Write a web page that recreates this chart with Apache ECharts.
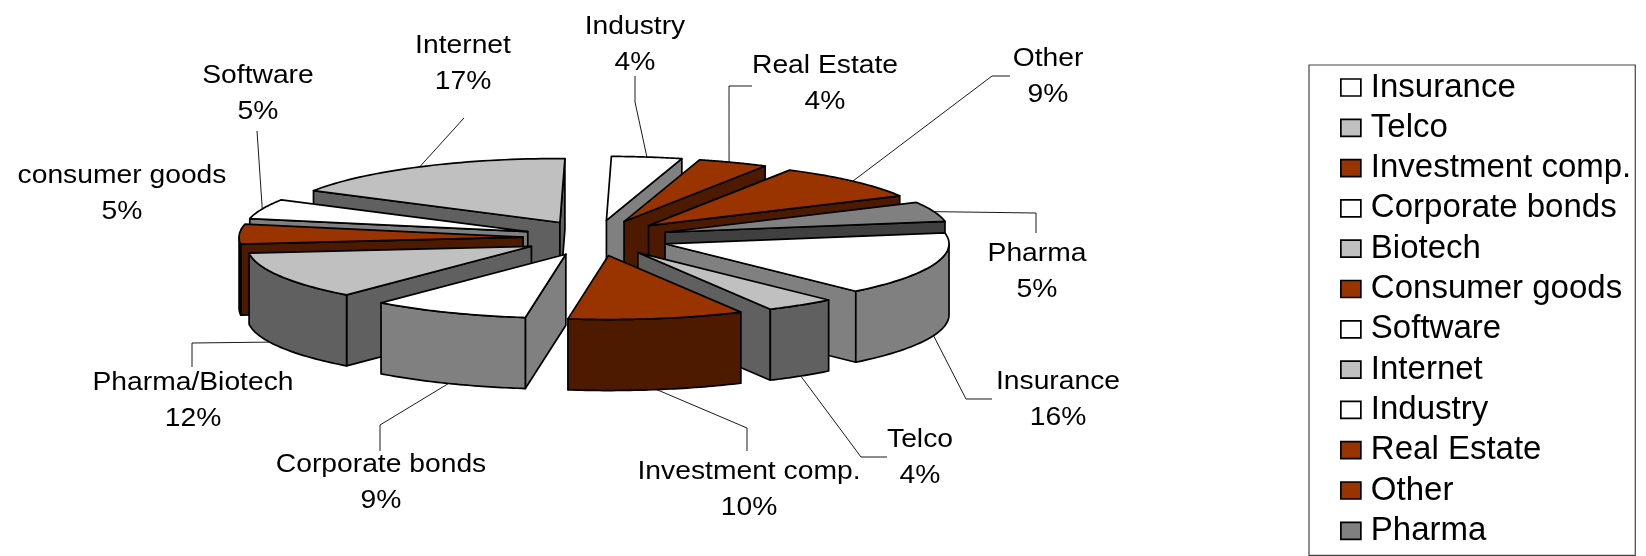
<!DOCTYPE html>
<html>
<head>
<meta charset="utf-8">
<style>html,body{margin:0;padding:0;background:#fff}#c{width:1646px;height:556px}</style>
<script src="https://cdn.jsdelivr.net/npm/echarts@6/dist/echarts.min.js"></script>
</head>
<body>
<div id="c"></div>
<script>
// ---- data ----
const legendNames = ['Insurance','Telco','Investment comp.','Corporate bonds','Biotech','Consumer goods','Software','Internet','Industry','Real Estate','Other','Pharma'];
const labelNames  = ['Insurance','Telco','Investment comp.','Corporate bonds','Pharma/Biotech','consumer goods','Software','Internet','Industry','Real Estate','Other','Pharma'];
const values      = [16,4,10,9,12,5,5,17,4,4,9,5];
// slices run clockwise, beginning with Industry at twelve o'clock
const drawOrder   = [8,9,10,11,0,1,2,3,4,5,6,7];

// ---- styles ----
const topColors  = ['#ffffff','#c0c0c0','#993300','#ffffff','#c0c0c0','#993300','#ffffff','#c0c0c0','#ffffff','#993300','#993300','#808080'];
const wallColors = ['#808080','#606060','#4d1a00','#808080','#606060','#4d1a00','#808080','#606060','#808080','#4d1a00','#4d1a00','#404040'];

// ---- layout ----
const pie = {cx:596, cy:238, rx:284, ry:64, depth:71, ex:73, ey:17.8, start:1};
const labelPos = [[1058,400],[920,458],[749,490],[381,483],[193,401],[122,194],[258,94],[463,64],[635,45],[825,84],[1048,77],[1037,272]];
// elbow points of the leader lines, from the label end toward the slice
const leaders = [
  [[992,399],[966,399]], [[887,457],[861,457]], [[747,451],[747,428]], [[380,451],[380,425]],
  [[192,367],[192,343]], null, [[257,131]], [[464,118]],
  [[635,76],[635,102]], [[752,86],[729,86]], [[1010,76],[992,76]], [[1036,233],[1036,213]]
];
// degrees added to the mid angle where a leader meets its slice
const leaderShift = [0,0,0,0,5,0,0,0,0,-0.9,0,0];

const total = values.reduce((a,b)=>a+b,0);
const rad = d => d*Math.PI/180;
const spans = {};
let acc = pie.start;
drawOrder.forEach(i => { const s = values[i]/total*360; spans[i] = [acc, acc+s]; acc += s; });

function makeSlice(i){
  return function(params, api){
    const v = api.value(0);
    const a = spans[i][0], b = a + v/total*360, m = (a+b)/2;
    const tx = pie.cx + pie.ex*Math.sin(rad(m)), ty = pie.cy - pie.ey*Math.cos(rad(m));
    const P = t => [tx + pie.rx*Math.sin(rad(t)), ty - pie.ry*Math.cos(rad(t))];
    const down = p => [p[0], p[1] + pie.depth];
    const line = {stroke:'#000', lineWidth:1.7, lineJoin:'round'};
    const poly = (pts, fill) => ({type:'polygon', shape:{points:pts}, style:Object.assign({fill}, line)});
    const kids = [];
    const wall = wallColors[i];
    const tip = [tx,ty];
    if (Math.sin(rad(a)) < 0) kids.push(poly([tip,P(a),down(P(a)),down(tip)], wall));
    if (Math.sin(rad(b)) > 0) kids.push(poly([tip,P(b),down(P(b)),down(tip)], wall));
    const w0 = Math.max(a,90), w1 = Math.min(b,270);
    if (w1 > w0){
      const up = [], low = [];
      for (let t=w0; t<=w1+0.001; t+=(w1-w0)/40){ up.push(P(t)); low.unshift(down(P(t))); }
      kids.push(poly(up.concat(low), wall));
    }
    const arc = [tip];
    for (let t=a; t<=b+0.001; t+=(b-a)/40) arc.push(P(t));
    kids.push(poly(arc, topColors[i]));
    // leader line
    if (leaders[i]){
      const front = m>90 && m<270;
      const pm = P(m + leaderShift[i]);
      const end = front ? down(pm) : pm;
      kids.push({type:'polyline', shape:{points:leaders[i].concat([end])}, style:{stroke:'#000', lineWidth:0.9, fill:null}});
    }
    kids.push({type:'text', x:labelPos[i][0], y:labelPos[i][1], scaleX:1.13,
      style:{text:labelNames[i]+'\n'+v+'%', x:0, y:0, align:'center', verticalAlign:'middle',
             fontFamily:'Liberation Sans', fontSize:25, lineHeight:35.5, fill:'#000'}});
    return {type:'group', children:kids};
  };
}

const order = values.map((v,i)=>i).sort((p,q)=>{
  const mid = k => (spans[k][0]+spans[k][1])/2;
  return -Math.cos(rad(mid(p))) + Math.cos(rad(mid(q)));
});

const chart = echarts.init(document.getElementById('c'), null, {renderer:'canvas'});
chart.setOption({
  animation:false,
  backgroundColor:'#fff',
  tooltip:{show:false},
  legend:{
    orient:'vertical', left:1309, top:65, padding:[6,4,8,31],
    itemWidth:20, itemHeight:17, itemGap:7.3, selectedMode:false,
    borderColor:'#444', borderWidth:1.2, borderRadius:0,
    textStyle:{fontFamily:'Liberation Sans', fontSize:33, color:'#000', padding:[0,0,4,5]},
    data:legendNames.map((n,i)=>({name:n, icon:'rect',
      itemStyle:{color:topColors[i], borderColor:'#000', borderWidth:1.7}}))
  },
  series:order.map((i,k)=>({
    type:'custom', name:legendNames[i], coordinateSystem:'none', silent:true, z:2+k,
    itemStyle:{color:topColors[i]},
    renderItem:makeSlice(i), data:[[values[i]]]
  }))
});
</script>
</body>
</html>
